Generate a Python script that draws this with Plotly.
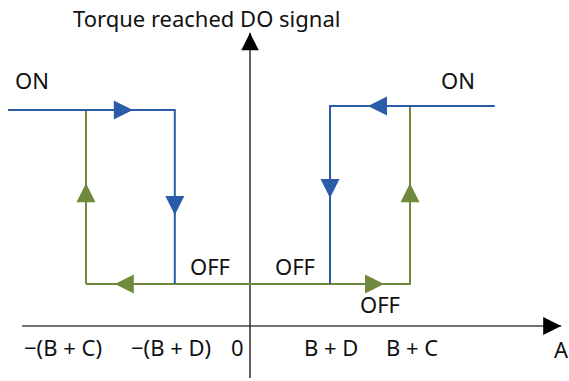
import plotly.graph_objects as go

# levels of the DO signal and the switching points on the A axis
off_level = 1.0
on_left = 5.14
on_right = 5.24
x_far_left = -6.05
x_far_right = 6.12
x_bc_neg = -4.1
x_bd_neg = -1.88
x_bd = 2.0
x_bc = 4.0

tick_vals = [-4.1, -1.88, 0, 2.0, 4.0]
tick_text = ["\u2212(B + C)", "\u2212(B + D)", "0", "B + D", "B + C"]

# axis extents
a_axis_x = [-5.7, 7.78]
do_axis_y = [-1.24, 6.98]

# blue path (falling ON -> OFF)
blue_left_x = [x_far_left, x_bd_neg, x_bd_neg]
blue_left_y = [on_left, on_left, off_level]
blue_right_x = [x_far_right, x_bd, x_bd]
blue_right_y = [on_right, on_right, off_level]

# green path (rising OFF -> ON)
green_x = [x_bc_neg, x_bc_neg, None, x_bc_neg, x_bc, x_bc]
green_y = [on_left, off_level, None, off_level, off_level, on_right]

# arrow tips: (x, y, direction, colour)
blue = "#2A5CAA"
green = "#6F8A3C"
arrow_tips = [
    (-2.93, on_left, "right", blue),
    (x_bd_neg, 2.64, "down", blue),
    (x_bd, 3.05, "down", blue),
    (2.95, on_right, "left", blue),
    (x_bc_neg, 3.40, "up", green),
    (x_bc, 3.40, "up", green),
    (-3.38, off_level, "left", green),
    (3.35, off_level, "right", green),
]

fig = go.Figure()
fig.add_trace(go.Scatter(x=a_axis_x, y=[0, 0], mode="lines",
                         line=dict(color="#444444", width=1.5), hoverinfo="skip"))
fig.add_trace(go.Scatter(x=[0, 0], y=do_axis_y, mode="lines",
                         line=dict(color="#111111", width=1.3), hoverinfo="skip"))
fig.add_trace(go.Scatter(x=green_x, y=green_y, mode="lines",
                         line=dict(color=green, width=2), hoverinfo="skip"))
fig.add_trace(go.Scatter(x=blue_left_x, y=blue_left_y, mode="lines",
                         line=dict(color=blue, width=2), hoverinfo="skip"))
fig.add_trace(go.Scatter(x=blue_right_x, y=blue_right_y, mode="lines",
                         line=dict(color=blue, width=2), hoverinfo="skip"))

offsets = {"right": (-8, 0), "left": (8, 0), "up": (0, 8), "down": (0, -8)}
for x, y, d, c in arrow_tips:
    ax, ay = offsets[d]
    fig.add_annotation(x=x, y=y, ax=ax, ay=ay, axref="pixel", ayref="pixel",
                       text="", showarrow=True, arrowhead=2, arrowsize=1.9,
                       arrowwidth=2, arrowcolor=c)

# axis arrowheads
fig.add_annotation(x=a_axis_x[1], y=0, ax=-8, ay=0, text="", showarrow=True,
                   arrowhead=2, arrowsize=2.4, arrowwidth=1.5, arrowcolor="black")
fig.add_annotation(x=0, y=do_axis_y[1], ax=0, ay=8, text="", showarrow=True,
                   arrowhead=2, arrowsize=2.5, arrowwidth=1.4, arrowcolor="black")

font = dict(family="Noto Sans", size=22, color="#111111")
shifts = [-23, -4, -13, 1, 2]
for v, t, s in zip(tick_vals, tick_text, shifts):
    fig.add_annotation(x=v, y=0, yshift=-21, xshift=s, text=t, showarrow=False, font=font)
fig.add_annotation(x=a_axis_x[1], y=0, yshift=-23, xshift=0, text="A", showarrow=False, font=font)

fig.add_annotation(x=0, y=do_axis_y[1], yshift=15, xshift=-44, text="Torque reached DO signal",
                   showarrow=False, font=font)
fig.add_annotation(x=x_far_left, y=on_left, xshift=24, yshift=30, text="ON", showarrow=False, font=font)
fig.add_annotation(x=x_far_right, y=on_right, xshift=-37, yshift=26, text="ON", showarrow=False, font=font)
fig.add_annotation(x=x_bd_neg, y=off_level, xshift=35, yshift=18, text="OFF", showarrow=False, font=font)
fig.add_annotation(x=x_bd, y=off_level, xshift=-35, yshift=18, text="OFF", showarrow=False, font=font)
fig.add_annotation(x=x_bc, y=off_level, xshift=-30, yshift=-20, text="OFF", showarrow=False, font=font)

fig.update_layout(
    width=569, height=381,
    margin=dict(l=0, r=0, t=0, b=0),
    paper_bgcolor="white", plot_bgcolor="white",
    showlegend=False,
    xaxis=dict(range=[-6.25, 7.975], visible=False, fixedrange=True),
    yaxis=dict(range=[-1.31, 7.762], visible=False, fixedrange=True),
)

# drop the default 8px page margin so the figure fills the window
fig.write_html("out.html", config={"displayModeBar": False},
               post_script="document.body.style.margin='0px';")
